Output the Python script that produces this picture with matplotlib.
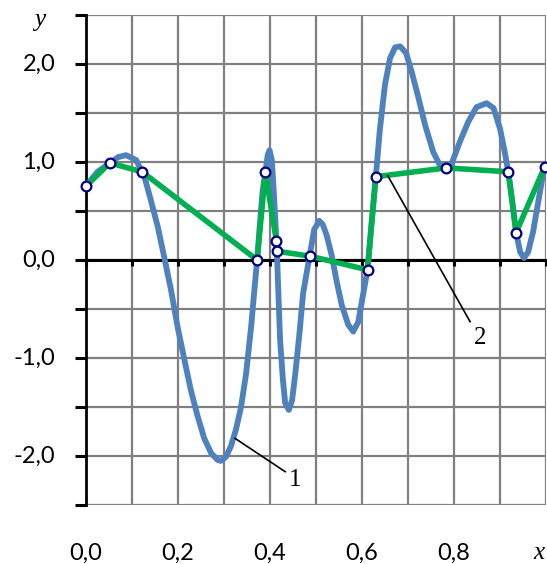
import numpy as np
import matplotlib
matplotlib.use("Agg")
import matplotlib.pyplot as plt

# curve 1 - the function
curve_x = [0.000, 0.025, 0.052, 0.070, 0.087, 0.109, 0.127, 0.141, 0.156, 0.170,
           0.185, 0.199, 0.214, 0.228, 0.243, 0.257, 0.272, 0.286, 0.293, 0.304,
           0.315, 0.326, 0.337, 0.348, 0.359, 0.366, 0.372, 0.378, 0.384, 0.390,
           0.395, 0.399, 0.404, 0.408, 0.412, 0.414, 0.415, 0.418, 0.422, 0.428,
           0.433, 0.441, 0.448, 0.455, 0.464, 0.472, 0.486, 0.496, 0.507, 0.515,
           0.523, 0.534, 0.545, 0.556, 0.570, 0.581, 0.592, 0.601, 0.612, 0.621,
           0.630, 0.639, 0.650, 0.661, 0.672, 0.683, 0.696, 0.708, 0.723, 0.737,
           0.755, 0.769, 0.783, 0.795, 0.813, 0.831, 0.849, 0.871, 0.886, 0.900,
           0.910, 0.918, 0.927, 0.935, 0.944, 0.952, 0.961, 0.972, 0.983, 0.993,
           1.000]
curve_y = [0.755, 0.90, 0.99, 1.05, 1.07, 1.02, 0.85, 0.61, 0.34, 0.03,
           -0.31, -0.68, -1.02, -1.33, -1.60, -1.82, -1.97, -2.04, -2.05, -2.01,
           -1.90, -1.73, -1.50, -1.16, -0.68, -0.31, 0.0, 0.37, 0.71, 0.895,
           1.07, 1.12, 1.02, 0.71, 0.37, 0.19, 0.09, -0.31, -0.82, -1.22,
           -1.46, -1.53, -1.43, -1.16, -0.75, -0.34, 0.04, 0.31, 0.40, 0.36,
           0.255, 0.05, -0.22, -0.46, -0.66, -0.73, -0.63, -0.39, -0.10, 0.39,
           0.85, 1.34, 1.79, 2.06, 2.17, 2.18, 2.11, 1.92, 1.65, 1.38,
           1.10, 0.97, 0.94, 0.985, 1.21, 1.41, 1.56, 1.60, 1.55, 1.34,
           1.11, 0.90, 0.59, 0.28, 0.08, 0.02, 0.08, 0.29, 0.59, 0.86,
           0.95]

# curve 2 - piecewise linear through the nodes
node_x = [0.0, 0.052, 0.122, 0.372, 0.390, 0.414, 0.415, 0.486, 0.612, 0.630,
          0.783, 0.918, 0.935, 0.997]
node_y = [0.755, 0.99, 0.90, 0.0, 0.895, 0.19, 0.09, 0.04, -0.10, 0.85,
          0.94, 0.90, 0.28, 0.95]

xtick_vals = [0.0, 0.2, 0.4, 0.6, 0.8]
xtick_text = ["0,0", "0,2", "0,4", "0,6", "0,8"]
ytick_vals = [-2.0, -1.0, 0.0, 1.0, 2.0]
ytick_text = ["-2,0", "-1,0", "0,0", "1,0", "2,0"]

W, H = 547, 564
fig = plt.figure(figsize=(W / 100, H / 100), dpi=100)
ax = fig.add_axes([86 / W, 59 / H, 460 / W, 490 / H])

lab_font = "Lato"
serif = "Liberation Serif"

ax.set_xlim(0, 1.0)
ax.set_ylim(-2.5, 2.5)
ax.set_xticks(np.arange(0, 1.01, 0.1))
ax.set_yticks(np.arange(-2.5, 2.51, 0.5))
ax.grid(True, color="#808080", lw=1.6)
ax.set_axisbelow(True)

for s in ["top", "right"]:
    ax.spines[s].set_visible(False)
ax.spines["left"].set_color("black")
ax.spines["left"].set_linewidth(2)
ax.spines["bottom"].set_position(("data", 0))
ax.spines["bottom"].set_color("black")
ax.spines["bottom"].set_linewidth(2.2)
ax.tick_params(axis="y", direction="out", length=8, width=2.2, labelleft=False)
ax.tick_params(axis="x", direction="out", length=4.5, width=2.2, labelbottom=False)

# tick labels as text, placed like the original
for v, t in zip(xtick_vals, xtick_text):
    ax.text(v, -0.098, t, transform=ax.get_xaxis_transform(), ha="center",
            va="center", fontfamily=lab_font, fontsize=17, clip_on=False)
for v, t in zip(ytick_vals, ytick_text):
    ax.text(-0.067, v, t, transform=ax.get_yaxis_transform(), ha="right",
            va="center", fontfamily=lab_font, fontsize=17, clip_on=False)
ax.text(0.985, -0.098, "x", transform=ax.get_xaxis_transform(), ha="center",
        va="center", fontfamily=serif, fontstyle="italic", fontsize=18, clip_on=False)
fig.text(40 / W, 1 - 20 / H, "y", ha="center", va="center", fontfamily=serif,
         fontstyle="italic", fontsize=18)

ax.plot(curve_x, curve_y, color="#4F81BD", lw=4.2, solid_joinstyle="round",
        solid_capstyle="round", zorder=3)
ax.plot(node_x, node_y, color="#00B050", lw=4.0, solid_joinstyle="round", zorder=4)
ax.plot(node_x, node_y, ls="none", marker="o", ms=7, mfc="white", mec="#000080",
        mew=1.6, zorder=5, clip_on=False)

# leader lines and labels
ax.plot([0.324, 0.433], [-1.82, -2.16], color="black", lw=1.2, zorder=6)
ax.text(0.454, -2.25, "1", fontfamily=serif, fontsize=18, ha="center", va="center")
ax.plot([0.656, 0.835], [0.86, -0.63], color="black", lw=1.2, zorder=6)
ax.text(0.857, -0.80, "2", fontfamily=serif, fontsize=18, ha="center", va="center")

fig.savefig("out.png", dpi=100)
